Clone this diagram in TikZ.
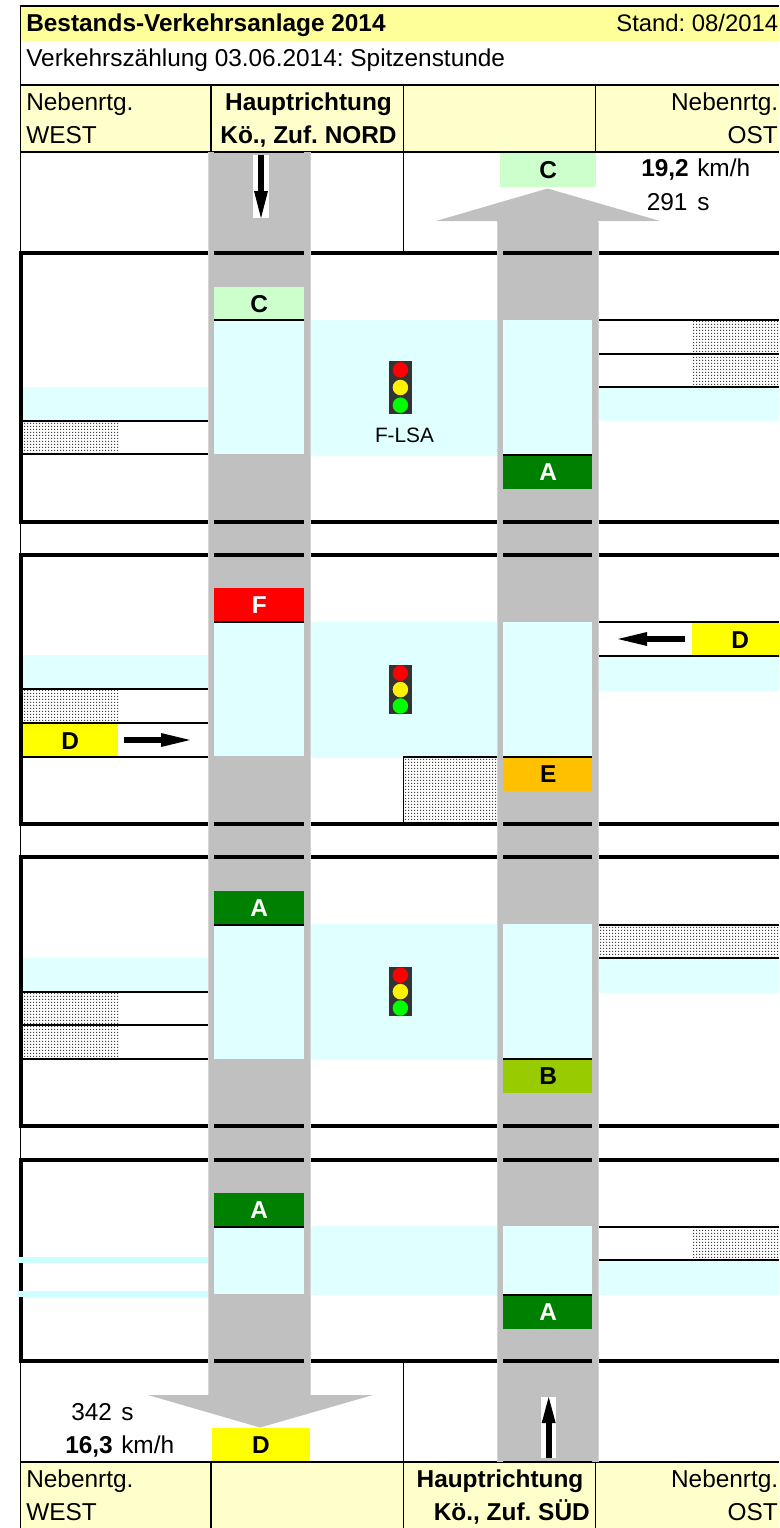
\documentclass[tikz,border=0pt]{standalone}
\usepackage{fontspec}
\setmainfont{Liberation Sans}
\usetikzlibrary{patterns}
\frenchspacing
\definecolor{roadgray}{HTML}{C0C0C0}
\definecolor{roadedge}{HTML}{D4D4D4}
\definecolor{cross}{HTML}{E0FFFF}
\definecolor{crossline}{HTML}{CCFFFF}
\definecolor{headA}{HTML}{FFFF99}
\definecolor{headB}{HTML}{FFFFCC}
\definecolor{losA}{HTML}{008000}
\definecolor{losB}{HTML}{99CC00}
\definecolor{losC}{HTML}{CCFFCC}
\definecolor{losD}{HTML}{FFFF00}
\definecolor{losE}{HTML}{FFC000}
\definecolor{losF}{HTML}{FF0000}
\definecolor{lampbox}{HTML}{333333}
\pgfdeclarepatternformonly{fine dots}{\pgfqpoint{-1pt}{-1pt}}{\pgfqpoint{1pt}{1pt}}{\pgfqpoint{2.25pt}{2.25pt}}{%
  \pgfpathrectangle{\pgfqpoint{0pt}{0pt}}{\pgfqpoint{.85pt}{.85pt}}%
  \pgfpathrectangle{\pgfqpoint{1.125pt}{1.125pt}}{\pgfqpoint{.85pt}{.85pt}}%
  \pgfusepath{fill}}
\newcommand{\txtfont}{\fontsize{18.3}{22}\selectfont\frenchspacing}
\tikzset{
  txt/.style={inner sep=0pt,anchor=base west,font=\txtfont},
  txtr/.style={inner sep=0pt,anchor=base east,font=\txtfont},
  txtc/.style={inner sep=0pt,anchor=base,font=\txtfont},
  thinline/.style={line width=1.5pt,black},
  vline/.style={line width=1.4pt,black},
  thickline/.style={line width=3pt,black},
  hatch/.style={pattern=fine dots,pattern color=black!75},
  tagbase/.style={inner sep=0pt,font=\txtfont\bfseries,text height=13pt,text depth=0pt,minimum width=67.5pt,minimum height=25pt,anchor=north west},
  tagA/.style={tagbase,fill=losA,text=white},
  tagB/.style={tagbase,fill=losB},
  tagC/.style={tagbase,fill=losC},
  tagD/.style={tagbase,fill=losD},
  tagE/.style={tagbase,fill=losE},
  tagF/.style={tagbase,fill=losF,text=white},
  smallarrow/.style={line width=4.5pt,black},
  bulb/.style={circle,inner sep=0pt,minimum size=11.6pt},
}
% lamp: #1 name, #2 top y, #3 step
\newcommand{\lamp}[3]{%
  \fill[lampbox] (389.3,#2) rectangle (411.8,#2+#3*3);
  \node[bulb,fill=red]     (#1r) at (400.4,#2+#3*.5) {};
  \node[bulb,fill=yellow]  (#1y) at (400.4,#2+#3*1.5) {};
  \node[bulb,fill=green]   (#1g) at (400.4,#2+#3*2.5) {};
}
\begin{document}
\begin{tikzpicture}[x=0.75pt,y=-0.75pt]
\useasboundingbox (0,0) rectangle (779,1528);
\fill[white] (0,0) rectangle (779,1528);
% header fills
\fill[headA] (21,6) rectangle (779,41);
\fill[headB] (21,85) rectangle (779,151);
\fill[headB] (21,1463) rectangle (779,1528);
% roads
\fill[roadgray] (208,152) rectangle (310,1396);
\fill[roadgray] (148,1395) -- (373,1395) -- (260,1427.5) -- cycle;
\fill[roadgray] (497,220) rectangle (598,1462);
\fill[roadgray] (436,221) -- (660,221) -- (547.5,188.5) -- cycle;
% crossings, section 1
\fill[cross] (214,320) rectangle (304,454);
\fill[cross] (310,320) rectangle (497,456);
\fill[cross] (503,320) rectangle (592,454);
\fill[cross] (598,387) rectangle (779,421);
\fill[cross] (22,387) rectangle (208,421);
% section 2
\fill[cross] (214,622) rectangle (304,756);
\fill[cross] (310,622) rectangle (497,758);
\fill[cross] (503,622) rectangle (592,756);
\fill[cross] (598,656) rectangle (779,691);
\fill[cross] (22,655) rectangle (208,689);
% section 3
\fill[cross] (214,925) rectangle (304,1059);
\fill[cross] (310,924) rectangle (497,1060);
\fill[cross] (503,924) rectangle (592,1058);
\fill[cross] (598,958) rectangle (779,993);
\fill[cross] (22,958) rectangle (208,992);
% section 4
\fill[cross] (214,1227) rectangle (304,1294);
\fill[cross] (310,1226) rectangle (497,1295);
\fill[cross] (503,1226) rectangle (592,1294);
\fill[cross] (598,1260) rectangle (779,1295);
% hatches
\fill[hatch] (22,422) rectangle (118,453);
\fill[hatch] (692,321) rectangle (779,353);
\fill[hatch] (692,355) rectangle (779,386);
\fill[hatch] (22,690) rectangle (118,722);
\fill[hatch] (404,758) rectangle (497,822);
\fill[hatch] (598,925) rectangle (779,957);
\fill[hatch] (22,993) rectangle (118,1024);
\fill[hatch] (22,1026) rectangle (118,1058);
\fill[hatch] (692,1228) rectangle (779,1259);
% level-of-service tags
\node[tagC,minimum width=72pt] (tagTop) at (500,153) {C};
\node[tagC] (tag1l) at (214,286.5) {C};
\node[tagA] (tag1r) at (503,455) {A};
\node[tagF] (tag2l) at (214,588) {F};
\node[tagE] (tag2r) at (503,757) {E};
\node[tagD,minimum width=72pt] (tag2e) at (692,623) {D};
\node[tagD,minimum width=72pt] (tag2w) at (22,724) {D};
\node[tagA] (tag3l) at (214,891) {A};
\node[tagB] (tag3r) at (503,1059) {B};
\node[tagA] (tag4l) at (214,1193) {A};
\node[tagA] (tag4r) at (503,1295) {A};
\node[tagD,minimum width=73pt] (tagBot) at (212,1428) {D};
% outline and header lines
\draw[thinline] (19.5,5.5) -- (779,5.5);
\draw[thinline] (20,84.5) -- (779,84.5);
\draw[thinline] (20,151.5) -- (779,151.5);
\draw[thinline] (20,1462) -- (779,1462);
\draw[vline] (20.5,5) -- (20.5,1528);
\foreach \xx in {211,403.5,595.5} {
  \draw[vline] (\xx,85) -- (\xx,151);
  \draw[vline] (\xx,1462) -- (\xx,1528);
}
\draw[vline] (403.5,152) -- (403.5,252);
\draw[vline] (403.5,1361) -- (403.5,1462);
\draw[vline] (403.5,756) -- (403.5,823);
% thin section lines
\foreach \ya/\yb in {421/454,689/723,723/757,992/1025,1025/1059} {
  \draw[thinline] (21,\ya) -- (208,\ya);
  \draw[thinline] (21,\yb) -- (208,\yb);
}
\foreach \ya in {320,354,387,622,656,924.5,958,1227,1260} {
  \draw[thinline] (598,\ya) -- (779,\ya);
}
\draw[thinline] (404,756.5) -- (497,756.5);
\foreach \xa/\xb/\ya in {214/304/320,503/592/454.5,214/304/622,503/592/756.5,214/304/925,503/592/1058.5,214/304/1227,503/592/1294.5} {
  \draw[thinline] (\xa,\ya) -- (\xb,\ya);
}
% thick section frames
\foreach \ya/\yb in {253/521.5,555/823.5,857/1125.5,1159.5/1361} {
  \draw[thickline] (20.5,\ya) -- (20.5,\yb);
  \draw[thickline] (18.5,\ya) -- (779,\ya);
  \draw[thickline] (18.5,\yb) -- (779,\yb);
}
% thin crossing bands run over the frame
\fill[crossline] (18,1257) rectangle (208,1263);
\fill[crossline] (18,1291) rectangle (208,1297);
% road edge strips, on top of the frames
\fill[roadgray] (208,152) rectangle (214,1395);
\fill[roadgray] (304,152) rectangle (310,1395);
\fill[roadgray] (497,222) rectangle (503,1462);
\fill[roadgray] (592,222) rectangle (598,1462);
\draw[roadedge,line width=.5pt] (208.5,152) -- (208.5,1395);
\draw[roadedge,line width=.5pt] (310,152) -- (310,1395);
\draw[roadedge,line width=.5pt] (497.5,222) -- (497.5,1462);
\draw[roadedge,line width=.5pt] (598,222) -- (598,1462);
% white arrow backgrounds
\fill[white] (253,155) rectangle (269,218);
\fill[white] (541,1397) rectangle (556,1458);
% small arrows
\coordinate (dnA) at (261,155); \coordinate (dnB) at (261,191);
\coordinate (dnT) at (261,218);
\draw[smallarrow] (dnA) -- (dnB);
\fill[black] (254,191) -- (268,191) -- (dnT) -- cycle;
\coordinate (upA) at (548.7,1458); \coordinate (upB) at (548.7,1423);
\coordinate (upT) at (548.7,1397);
\draw[smallarrow] (upA) -- (upB);
\fill[black] (541.7,1423) -- (555.7,1423) -- (upT) -- cycle;
\coordinate (wA) at (685,639); \coordinate (wB) at (647,639);
\coordinate (wT) at (618,639);
\draw[smallarrow] (wA) -- (wB);
\fill[black] (647,632) -- (647,646) -- (wT) -- cycle;
\coordinate (eA) at (124,740); \coordinate (eB) at (161,740);
\coordinate (eT) at (190,740);
\draw[smallarrow] (eA) -- (eB);
\fill[black] (161,733) -- (161,747) -- (eT) -- cycle;
% signals
\lamp{sa}{361}{17.67}
\lamp{sb}{665}{16.4}
\lamp{sc}{967}{16.4}
\node[inner sep=0pt,anchor=base,font=\fontsize{15.6}{18}\selectfont] (flsa) at (404.5,442) {F-LSA};
% texts
\node[txt,font=\txtfont\bfseries] (title) at (26,31) {Bestands-Verkehrsanlage 2014};
\node[txtr,font=\fontsize{17.9}{22}\selectfont] (stand) at (778.5,31) {Stand: 08/2014};
\node[txt] (count) at (26,66) {Verkehrszählung 03.06.2014: Spitzenstunde};
\node[txt] (nw1) at (26,110) {Nebenrtg.};
\node[txt] (nw2) at (26,143) {WEST};
\node[txtc,font=\txtfont\bfseries] (hn1) at (308.5,110) {Hauptrichtung};
\node[txtc,font=\txtfont\bfseries] (hn2) at (308.5,143) {Kö., Zuf. NORD};
\node[txtr] (no1) at (778.5,110) {Nebenrtg.};
\node[txtr] (no2) at (778,143) {OST};
\node[txt,font=\txtfont\bfseries] (v1a) at (641,176) {19,2};
\node[txt] (v1b) at (697,176) {km/h};
\node[txt] (t1a) at (646.5,210) {291};
\node[txt] (t1b) at (697,210) {s};
\node[txt] (t2a) at (71,1420) {342};
\node[txt] (t2b) at (121,1420) {s};
\node[txt,font=\txtfont\bfseries] (v2a) at (65,1453) {16,3};
\node[txt] (v2b) at (121,1453) {km/h};
\node[txt] (sw1) at (26,1487) {Nebenrtg.};
\node[txt] (sw2) at (26,1520) {WEST};
\node[txtc,font=\txtfont\bfseries] (hs1) at (500,1487) {Hauptrichtung};
\node[txtr,font=\txtfont\bfseries] (hs2) at (590,1520) {Kö., Zuf. SÜD};
\node[txtr] (so1) at (778.5,1487) {Nebenrtg.};
\node[txtr] (so2) at (778,1520) {OST};
\end{tikzpicture}
\end{document}
